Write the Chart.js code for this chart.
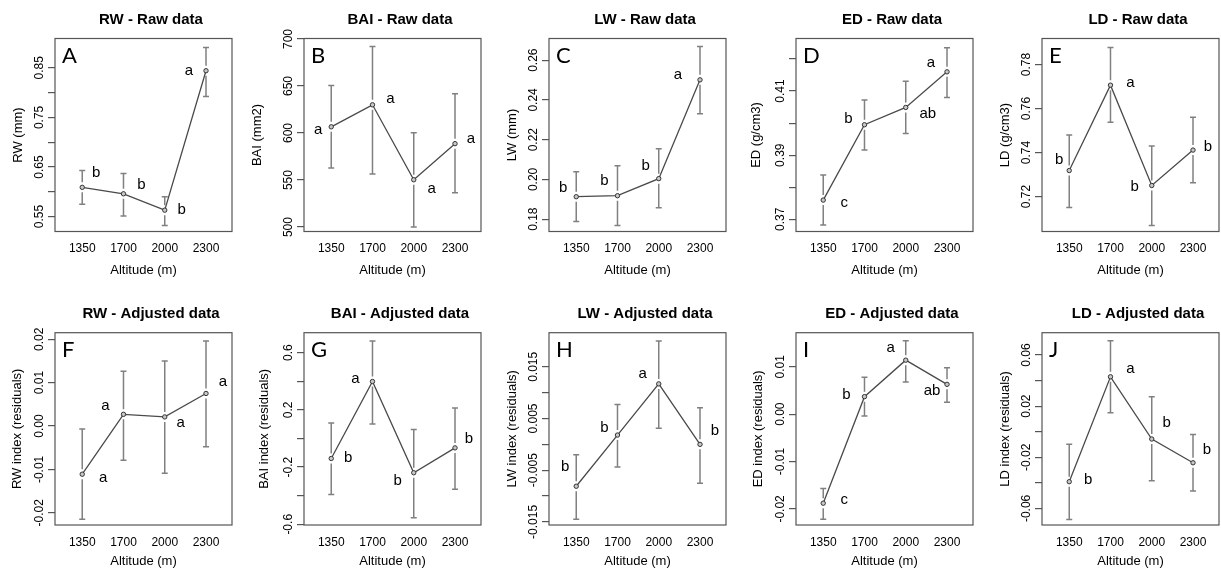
<!DOCTYPE html>
<html lang="en">
<head>
<meta charset="UTF-8">
<title>Ring traits along the altitude gradient</title>
<script src="https://cdn.jsdelivr.net/npm/chart.js@4"></script>
<style>
  html, body { margin: 0; padding: 0; background: #fff; }
  body { position: relative; width: 1221px; height: 571px; overflow: hidden; }
  .panel { position: absolute; width: 302px; }
  .row1 { top: 0; height: 285px; }
  .row2 { top: 285px; height: 286px; }
</style>
</head>
<body>
  <div class="panel row1" style="left:0px"><canvas id="rw-raw"></canvas></div>
  <div class="panel row1" style="left:249px"><canvas id="bai-raw"></canvas></div>
  <div class="panel row1" style="left:494px"><canvas id="lw-raw"></canvas></div>
  <div class="panel row1" style="left:741px"><canvas id="ed-raw"></canvas></div>
  <div class="panel row1" style="left:987px"><canvas id="ld-raw"></canvas></div>
  <div class="panel row2" style="left:0px"><canvas id="rw-adj"></canvas></div>
  <div class="panel row2" style="left:249px"><canvas id="bai-adj"></canvas></div>
  <div class="panel row2" style="left:494px"><canvas id="lw-adj"></canvas></div>
  <div class="panel row2" style="left:741px"><canvas id="ed-adj"></canvas></div>
  <div class="panel row2" style="left:987px"><canvas id="ld-adj"></canvas></div>

<script>
// sites (x axis)
const altitudes = ['1350', '1700', '2000', '2300'];

// --- raw data: mean, lower / upper end of the error bar, Tukey groups ---
const rwRawMean = [0.609, 0.596, 0.563, 0.844];
const rwRawLo = [0.575, 0.551, 0.532, 0.792];
const rwRawHi = [0.643, 0.637, 0.590, 0.891];
const rwRawGroups = ['b', 'b', 'b', 'a'];
const rwRawTicks = [0.55, 0.60, 0.65, 0.70, 0.75, 0.80, 0.85];
const rwRawTickLabels = ['0.55', '', '0.65', '', '0.75', '', '0.85'];
const rwRawRange = [0.520, 0.909];

const baiRawMean = [606.6, 630.0, 550.3, 588.7];
const baiRawLo = [562.8, 556.5, 500.0, 536.6];
const baiRawHi = [650.4, 692.0, 600.2, 641.8];
const baiRawGroups = ['a', 'a', 'a', 'a'];
const baiRawTicks = [500, 550, 600, 650, 700];
const baiRawTickLabels = ['500', '550', '600', '650', '700'];
const baiRawRange = [495.3, 700.5];

const lwRawMean = [0.1913, 0.1918, 0.2004, 0.2501];
const lwRawLo = [0.1788, 0.1768, 0.1857, 0.2331];
const lwRawHi = [0.2039, 0.2069, 0.2154, 0.2669];
const lwRawGroups = ['b', 'b', 'b', 'a'];
const lwRawTicks = [0.18, 0.20, 0.22, 0.24, 0.26];
const lwRawTickLabels = ['0.18', '0.20', '0.22', '0.24', '0.26'];
const lwRawRange = [0.1738, 0.2709];

const edRawMean = [0.3760, 0.3995, 0.4049, 0.4160];
const edRawLo = [0.3682, 0.3916, 0.3968, 0.4080];
const edRawHi = [0.3838, 0.4072, 0.4131, 0.4235];
const edRawGroups = ['c', 'b', 'ab', 'a'];
const edRawTicks = [0.37, 0.38, 0.39, 0.40, 0.41, 0.42];
const edRawTickLabels = ['0.37', '', '0.39', '', '0.41', ''];
const edRawRange = [0.3662, 0.4264];

const ldRawMean = [0.7318, 0.7706, 0.7250, 0.7411];
const ldRawLo = [0.7150, 0.7537, 0.7068, 0.7263];
const ldRawHi = [0.7480, 0.7877, 0.7430, 0.7560];
const ldRawGroups = ['b', 'a', 'b', 'b'];
const ldRawTicks = [0.72, 0.74, 0.76, 0.78];
const ldRawTickLabels = ['0.72', '0.74', '0.76', '0.78'];
const ldRawRange = [0.7041, 0.7918];

// --- adjusted data (residual indices) ---
const rwAdjMean = [-0.0111, 0.0027, 0.0021, 0.0075];
const rwAdjLo = [-0.0215, -0.0079, -0.0109, -0.0048];
const rwAdjHi = [-0.0007, 0.0126, 0.0150, 0.0196];
const rwAdjGroups = ['a', 'a', 'a', 'a'];
const rwAdjTicks = [-0.02, -0.01, 0, 0.01, 0.02];
const rwAdjTickLabels = ['-0.02', '-0.01', '0.00', '0.01', '0.02'];
const rwAdjRange = [-0.0228, 0.0215];

const baiAdjMean = [-0.140, 0.398, -0.240, -0.066];
const baiAdjLo = [-0.391, 0.101, -0.554, -0.356];
const baiAdjHi = [0.108, 0.681, 0.062, 0.212];
const baiAdjGroups = ['b', 'a', 'b', 'b'];
const baiAdjTicks = [-0.6, -0.4, -0.2, 0, 0.2, 0.4, 0.6];
const baiAdjTickLabels = ['-0.6', '', '-0.2', '', '0.2', '', '0.6'];
const baiAdjRange = [-0.605, 0.739];

const lwAdjMean = [-0.0081, 0.0018, 0.0117, 0.0000];
const lwAdjLo = [-0.0145, -0.0044, 0.0031, -0.0075];
const lwAdjHi = [-0.0020, 0.0077, 0.0200, 0.0071];
const lwAdjGroups = ['b', 'b', 'a', 'b'];
const lwAdjTicks = [-0.015, -0.010, -0.005, 0, 0.005, 0.010, 0.015];
const lwAdjTickLabels = ['-0.015', '', '-0.005', '', '0.005', '', '0.015'];
const lwAdjRange = [-0.0156, 0.0216];

const edAdjMean = [-0.0188, 0.0037, 0.0114, 0.0063];
const edAdjLo = [-0.0222, -0.0004, 0.0068, 0.0025];
const edAdjHi = [-0.0157, 0.0078, 0.0155, 0.0098];
const edAdjGroups = ['c', 'b', 'a', 'ab'];
const edAdjTicks = [-0.02, -0.01, 0, 0.01];
const edAdjTickLabels = ['-0.02', '-0.01', '0.00', '0.01'];
const edAdjRange = [-0.0234, 0.0172];

const ldAdjMean = [-0.0391, 0.0430, -0.0057, -0.0243];
const ldAdjLo = [-0.0686, 0.0149, -0.0384, -0.0464];
const ldAdjHi = [-0.0099, 0.0712, 0.0274, -0.0021];
const ldAdjGroups = ['b', 'a', 'b', 'b'];
const ldAdjTicks = [-0.06, -0.04, -0.02, 0, 0.02, 0.04, 0.06];
const ldAdjTickLabels = ['-0.06', '', '-0.02', '', '0.02', '', '0.06'];
const ldAdjRange = [-0.073, 0.0775];

const FONT = "'Liberation Sans', Arial, Helvetica, sans-serif";
const TICK_SIZE = 12;
const BOX_LEFT = 55;      // room for the y axis inside each canvas
const BOX_RIGHT = 70;     // empty band right of the frame (keeps the title centred a bit right)
const TICK_LEN = 7;
const GAP = 5;            // gap in the error bar around the mean point
const CAP = 3;            // half width of the error bar caps

// per-row vertical layout
const rows = [
  { titlePad: { top: 11, bottom: 9.5 }, xHeight: 53.5, xTitlePad: 7.2 },
  { titlePad: { top: 20, bottom: 9.7 }, xHeight: 46, xTitlePad: 1.5 }
];

const panels = [
  { id: 'rw-raw', row: 0, tag: 'A', title: 'RW - Raw data', yTitle: 'RW (mm)', yTitleGap: 37,
    mean: rwRawMean, lo: rwRawLo, hi: rwRawHi, groups: rwRawGroups,
    ticks: rwRawTicks, tickLabels: rwRawTickLabels, range: rwRawRange,
    tagPos: [[14, -14], [18, -9], [17, 0], [-17, 0]] },
  { id: 'bai-raw', row: 0, tag: 'B', title: 'BAI - Raw data', yTitle: 'BAI (mm2)', yTitleGap: 47,
    mean: baiRawMean, lo: baiRawLo, hi: baiRawHi, groups: baiRawGroups,
    ticks: baiRawTicks, tickLabels: baiRawTickLabels, range: baiRawRange,
    tagPos: [[-13, 3], [18, -6], [18, 9], [16, -5]] },
  { id: 'lw-raw', row: 0, tag: 'C', title: 'LW - Raw data', yTitle: 'LW (mm)', yTitleGap: 37,
    mean: lwRawMean, lo: lwRawLo, hi: lwRawHi, groups: lwRawGroups,
    ticks: lwRawTicks, tickLabels: lwRawTickLabels, range: lwRawRange,
    tagPos: [[-13, -9], [-13, -15], [-13, -13], [-22, -5]] },
  { id: 'ed-raw', row: 0, tag: 'D', title: 'ED - Raw data', yTitle: 'ED (g/cm3)', yTitleGap: 40,
    mean: edRawMean, lo: edRawLo, hi: edRawHi, groups: edRawGroups,
    ticks: edRawTicks, tickLabels: edRawTickLabels, range: edRawRange,
    tagPos: [[21, 3], [-16, -6], [22, 6], [-16, -9]] },
  { id: 'ld-raw', row: 0, tag: 'E', title: 'LD - Raw data', yTitle: 'LD (g/cm3)', yTitleGap: 37,
    mean: ldRawMean, lo: ldRawLo, hi: ldRawHi, groups: ldRawGroups,
    ticks: ldRawTicks, tickLabels: ldRawTickLabels, range: ldRawRange,
    tagPos: [[-10, -11], [20, -2], [-17, 1], [15, -3]] },
  { id: 'rw-adj', row: 1, tag: 'F', title: 'RW - Adjusted data', yTitle: 'RW index (residuals)', yTitleGap: 38,
    mean: rwAdjMean, lo: rwAdjLo, hi: rwAdjHi, groups: rwAdjGroups,
    ticks: rwAdjTicks, tickLabels: rwAdjTickLabels, range: rwAdjRange,
    tagPos: [[21, 4], [-18, -8], [16, 6], [17, -12]] },
  { id: 'bai-adj', row: 1, tag: 'G', title: 'BAI - Adjusted data', yTitle: 'BAI index (residuals)', yTitleGap: 40,
    mean: baiAdjMean, lo: baiAdjLo, hi: baiAdjHi, groups: baiAdjGroups,
    ticks: baiAdjTicks, tickLabels: baiAdjTickLabels, range: baiAdjRange,
    tagPos: [[17, -1], [-17, -3], [-16, 8], [14, -9]] },
  { id: 'lw-adj', row: 1, tag: 'H', title: 'LW - Adjusted data', yTitle: 'LW index (residuals)', yTitleGap: 37,
    mean: lwAdjMean, lo: lwAdjLo, hi: lwAdjHi, groups: lwAdjGroups,
    ticks: lwAdjTicks, tickLabels: lwAdjTickLabels, range: lwAdjRange,
    tagPos: [[-11, -19], [-13, -7], [-16, -10], [15, -13]] },
  { id: 'ed-adj', row: 1, tag: 'I', title: 'ED - Adjusted data', yTitle: 'ED index (residuals)', yTitleGap: 38,
    mean: edAdjMean, lo: edAdjLo, hi: edAdjHi, groups: edAdjGroups,
    ticks: edAdjTicks, tickLabels: edAdjTickLabels, range: edAdjRange,
    tagPos: [[21, -3], [-18, -2], [-15, -12], [-15, 7]] },
  { id: 'ld-adj', row: 1, tag: 'J', title: 'LD - Adjusted data', yTitle: 'LD index (residuals)', yTitleGap: 37,
    mean: ldAdjMean, lo: ldAdjLo, hi: ldAdjHi, groups: ldAdjGroups,
    ticks: ldAdjTicks, tickLabels: ldAdjTickLabels, range: ldAdjRange,
    tagPos: [[19, -2], [20, -8], [15, -16], [14, -13]] }
];

// width of the longest tick label, used to centre the rotated y labels
const measureCtx = document.createElement('canvas').getContext('2d');
function widestLabel(labels) {
  measureCtx.font = TICK_SIZE + 'px ' + FONT;
  return Math.max(...labels.map(t => measureCtx.measureText(t).width));
}

// error bars, frame, group letters and panel letter
function decorations(p) {
  return {
    id: 'decorations',
    beforeDatasetsDraw(chart) {
      const { ctx, scales: { x, y } } = chart;
      ctx.save();
      ctx.strokeStyle = '#808080';
      ctx.lineWidth = 1.5;
      p.mean.forEach((m, i) => {
        const cx = x.getPixelForValue(i + 1);
        const cy = y.getPixelForValue(m);
        const yHi = y.getPixelForValue(p.hi[i]);
        const yLo = y.getPixelForValue(p.lo[i]);
        ctx.beginPath();
        if (cy - GAP > yHi) { ctx.moveTo(cx, yHi); ctx.lineTo(cx, cy - GAP); }
        if (yLo > cy + GAP) { ctx.moveTo(cx, cy + GAP); ctx.lineTo(cx, yLo); }
        ctx.moveTo(cx - CAP, yHi); ctx.lineTo(cx + CAP, yHi);
        ctx.moveTo(cx - CAP, yLo); ctx.lineTo(cx + CAP, yLo);
        ctx.stroke();
      });
      ctx.restore();
    },
    afterDraw(chart) {
      const { ctx, chartArea: a, scales: { x, y } } = chart;
      ctx.save();
      ctx.strokeStyle = '#555';
      ctx.lineWidth = 1.2;
      ctx.strokeRect(a.left, a.top, a.width, a.height);

      ctx.fillStyle = '#000';
      ctx.font = '15px ' + FONT;
      ctx.textAlign = 'center';
      ctx.textBaseline = 'middle';
      p.groups.forEach((g, i) => {
        const [dx, dy] = p.tagPos[i];
        ctx.fillText(g, x.getPixelForValue(i + 1) + dx, y.getPixelForValue(p.mean[i]) + dy);
      });

      ctx.font = '22px Lato, ' + FONT;
      ctx.textAlign = 'left';
      ctx.fillText(p.tag, a.left + 7, a.top + 17);
      ctx.restore();
    }
  };
}

panels.forEach(p => {
  const row = rows[p.row];
  new Chart(document.getElementById(p.id), {
    type: 'line',
    data: {
      datasets: [{
        data: p.mean.map((m, i) => ({ x: i + 1, y: m })),
        borderColor: '#4a4a4a',
        borderWidth: 1.3,
        pointRadius: 2.2,
        pointBorderWidth: 1,
        pointBorderColor: '#333',
        pointBackgroundColor: '#c8c8c8',
        tension: 0
      }]
    },
    options: {
      responsive: true,
      maintainAspectRatio: false,
      animation: false,
      layout: { padding: 0 },
      plugins: {
        legend: { display: false },
        tooltip: { enabled: false },
        title: {
          display: true,
          text: p.title,
          color: '#000',
          font: { family: FONT, size: 15, weight: 'bold' },
          padding: row.titlePad
        }
      },
      scales: {
        x: {
          type: 'linear',
          min: 0.34,
          max: 4.63,
          bounds: 'data',
          afterBuildTicks: s => { s.ticks = altitudes.map((_, i) => ({ value: i + 1 })); },
          afterFit: s => { s.height = row.xHeight; },
          grid: { display: false, drawTicks: false },
          border: { display: false },
          ticks: {
            autoSkip: false,
            maxRotation: 0,
            padding: 10,
            color: '#000',
            font: { family: FONT, size: TICK_SIZE },
            callback: (v, i) => altitudes[i]
          },
          title: {
            display: true,
            text: 'Altitude (m)',
            color: '#000',
            font: { family: FONT, size: 13 },
            padding: { top: 0, bottom: row.xTitlePad }
          }
        },
        y: {
          type: 'linear',
          min: p.range[0],
          max: p.range[1],
          bounds: 'data',
          afterBuildTicks: s => { s.ticks = p.ticks.map(v => ({ value: v })); },
          afterFit: s => { s.width = BOX_LEFT; },
          grid: { drawOnChartArea: false, drawTicks: true, tickLength: TICK_LEN, color: '#555', lineWidth: 1.2 },
          border: { display: false },
          ticks: {
            autoSkip: false,
            minRotation: 90,
            maxRotation: 90,
            crossAlign: 'center',
            padding: 15 - TICK_LEN - widestLabel(p.tickLabels) / 2,
            color: '#000',
            font: { family: FONT, size: TICK_SIZE },
            callback: (v, i) => p.tickLabels[i]
          },
          title: {
            display: true,
            text: p.yTitle,
            color: '#000',
            font: { family: FONT, size: 13 },
            padding: { top: BOX_LEFT - p.yTitleGap - 7.8, bottom: 0 }
          }
        },
        // blank band on the right of the frame
        pad: {
          type: 'linear',
          position: 'right',
          afterFit: s => { s.width = BOX_RIGHT; },
          grid: { display: false, drawTicks: false },
          border: { display: false },
          ticks: { display: false }
        }
      }
    },
    plugins: [decorations(p)]
  });
});
</script>
</body>
</html>
